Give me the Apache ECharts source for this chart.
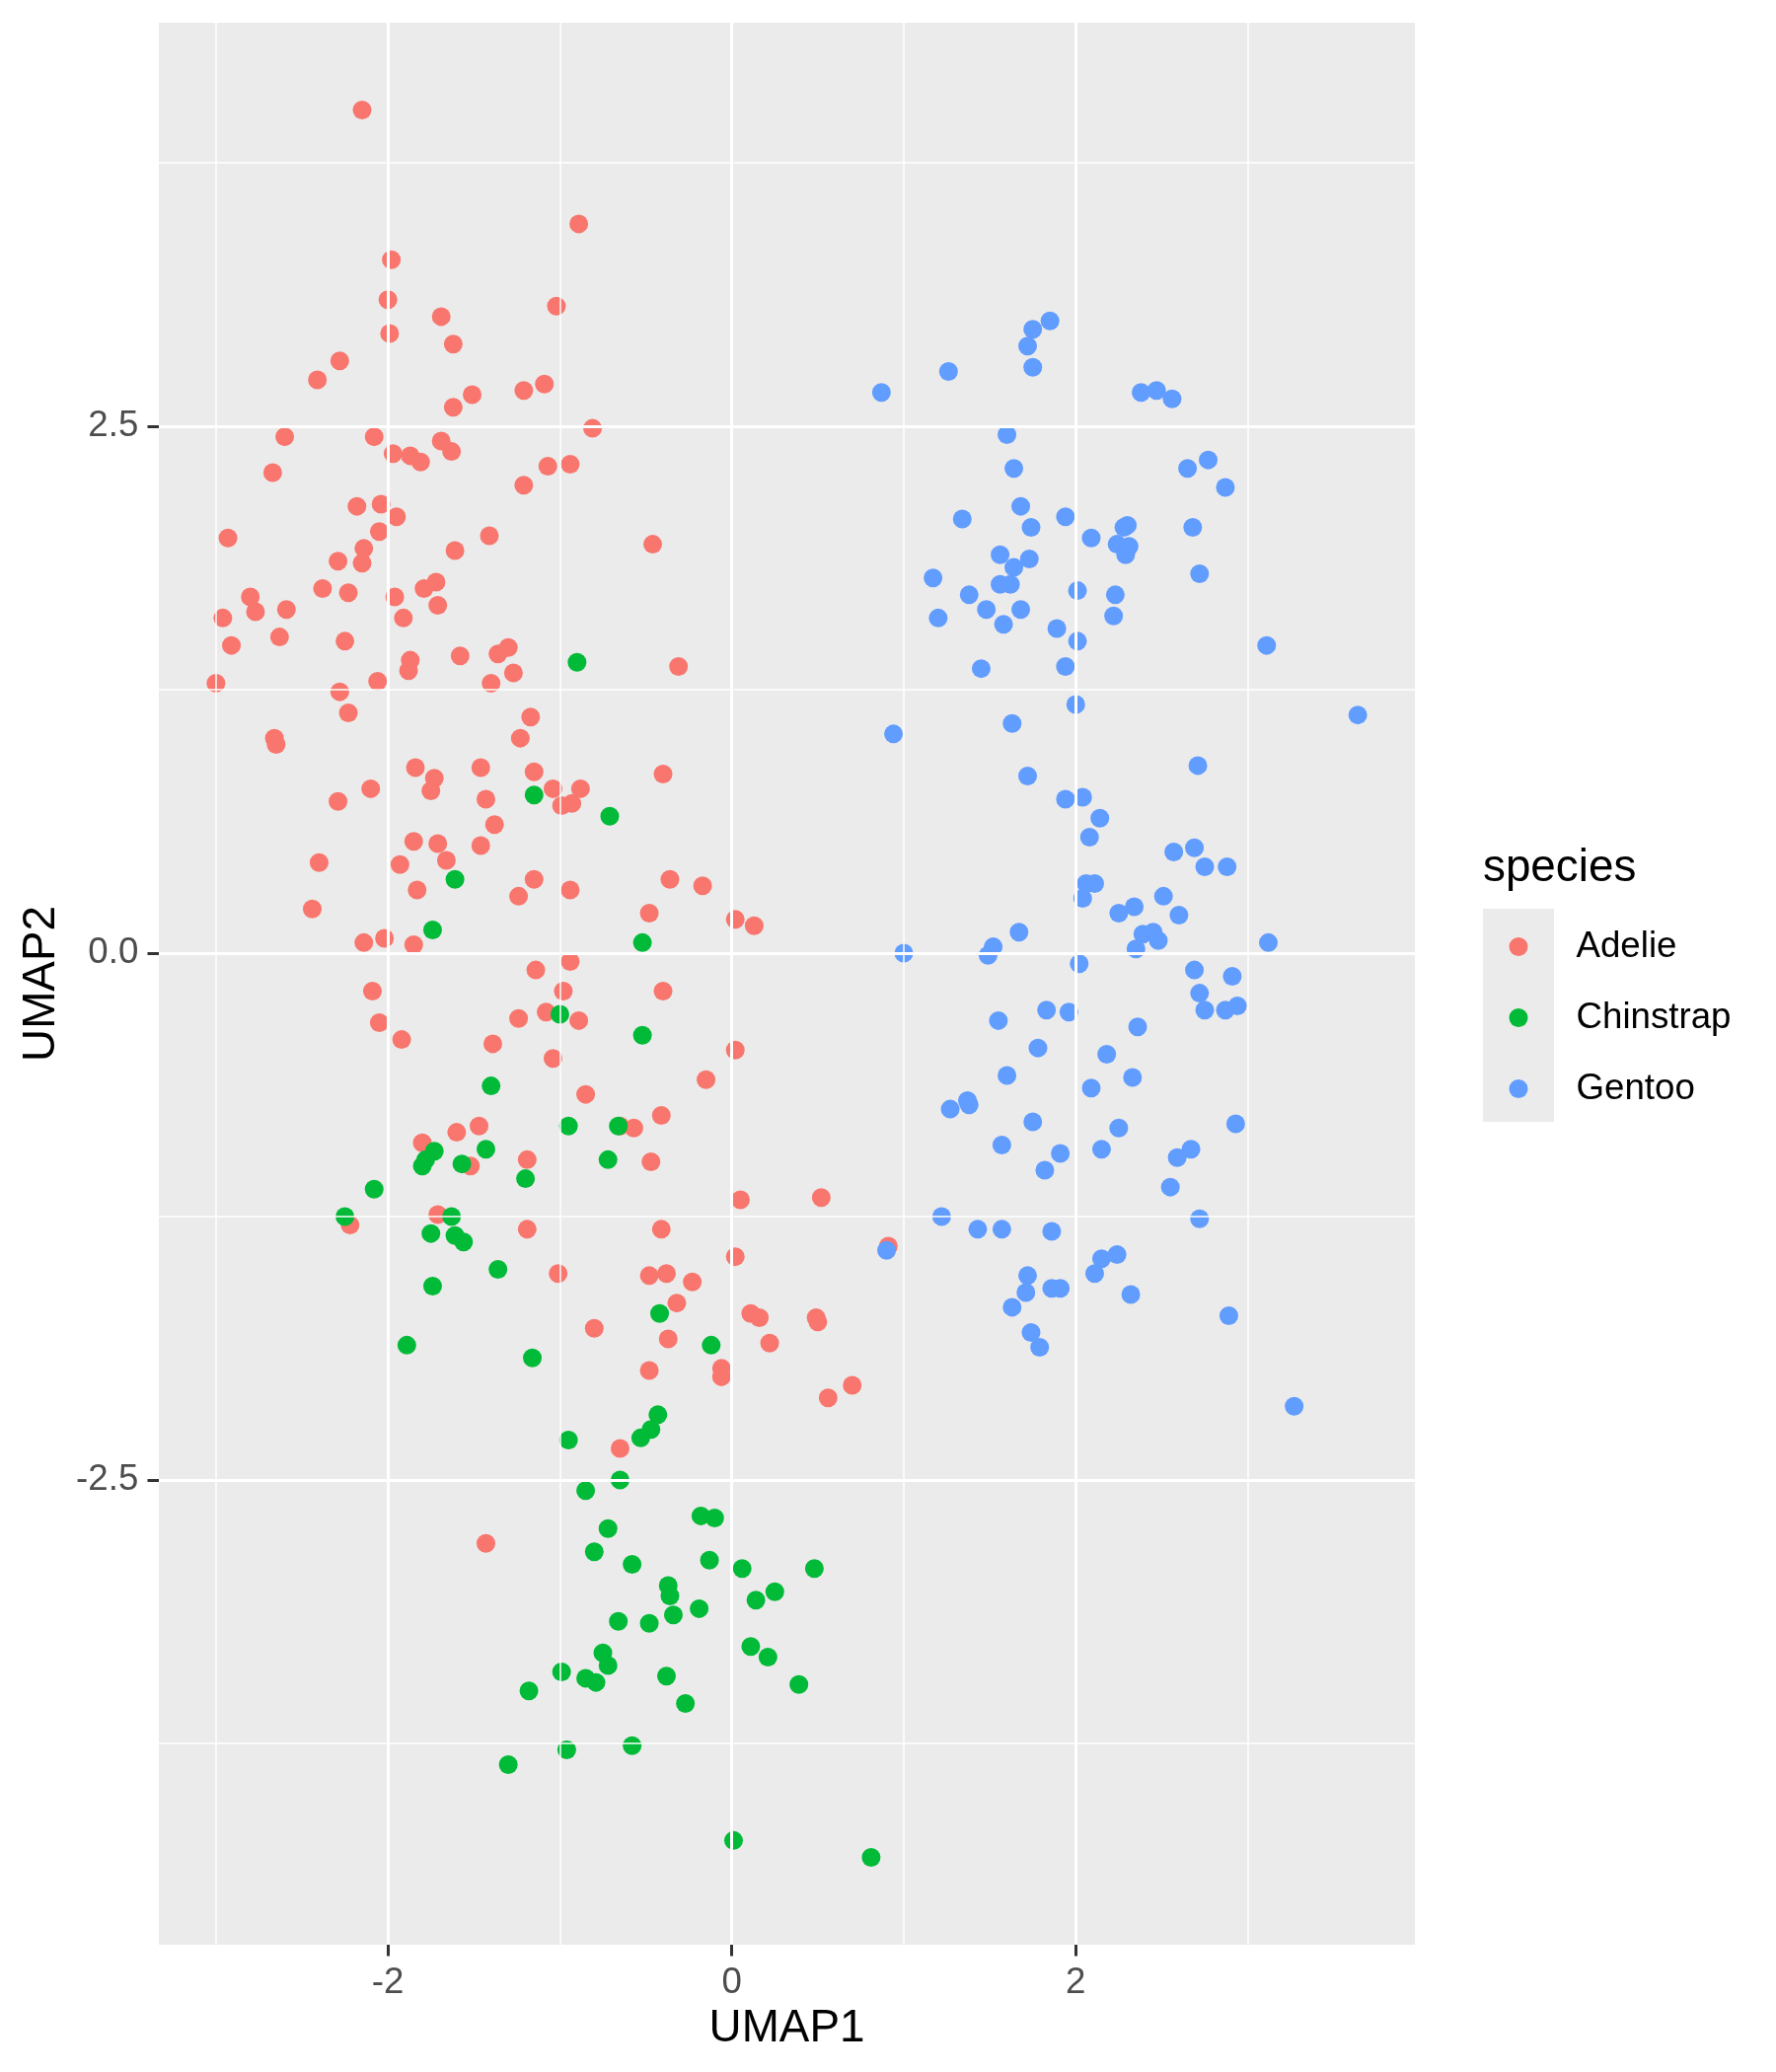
<!DOCTYPE html>
<html>
<head>
<meta charset="utf-8">
<script src="https://cdn.jsdelivr.net/npm/echarts@6/dist/echarts.min.js"></script>
<style>
html, body { margin: 0; background: #fff; }
#chart { width: 1800px; height: 2100px; }
</style>
</head>
<body>
<div id="chart"></div>
<script>
// UMAP embedding of the penguins data
const adelie = [
    [-2.15,4.00],[-0.89,3.46],[-1.98,3.29],[-2.00,3.10],[-1.69,3.02],[-1.02,3.07],[-1.99,2.94],[-1.62,2.89],
    [-2.28,2.81],[-2.41,2.72],[-1.51,2.65],[-1.62,2.59],[-1.21,2.67],[-1.09,2.70],[-0.81,2.49],[-2.60,2.45],
    [-2.08,2.45],[-1.97,2.37],[-1.87,2.36],[-1.81,2.33],[-1.69,2.43],[-1.63,2.38],[-2.67,2.28],[-1.07,2.31],
    [-0.94,2.32],[-1.21,2.22],[-2.18,2.12],[-2.04,2.13],[-1.95,2.07],
    [-2.93,1.97],[-2.05,2.00],[-1.41,1.98],[-0.46,1.94],[-2.14,1.92],[-2.29,1.86],[-2.15,1.85],[-1.61,1.91],
    [-2.80,1.69],[-2.77,1.62],[-2.59,1.63],[-2.38,1.73],[-2.23,1.71],[-1.96,1.69],[-1.79,1.73],[-1.72,1.76],
    [-1.71,1.65],[-1.91,1.59],[-2.96,1.59],[-2.91,1.46],[-2.63,1.50],[-2.25,1.48],[-1.87,1.39],[-1.88,1.34],
    [-1.58,1.41],[-1.36,1.42],[-1.30,1.45],[-1.27,1.33],[-1.40,1.28],[-0.31,1.36],[-3.00,1.28],[-2.28,1.24],
    [-2.06,1.29],[-2.23,1.14],[-1.17,1.12],[-1.23,1.02],[-2.66,1.02],[-2.65,0.99],[-1.84,0.88],[-1.73,0.83],
    [-1.75,0.77],[-1.46,0.88],[-1.15,0.86],[-0.40,0.85],[-2.10,0.78],[-2.29,0.72],[-1.43,0.73],[-1.04,0.78],
    [-0.88,0.78],[-0.99,0.70],[-0.93,0.71],[-1.38,0.61],[-1.85,0.53],[-1.71,0.52],[-1.46,0.51],[-1.66,0.44],
    [-2.40,0.43],[-1.93,0.42],[-1.15,0.35],[-0.36,0.35],[-0.17,0.32],[-1.83,0.30],[-1.24,0.27],[-0.94,0.30],
    [-2.44,0.21],[-0.48,0.19],[0.02,0.16],[0.13,0.13],[-2.14,0.05],[-2.02,0.07],[-1.85,0.04],
    [-1.14,-0.08],[-0.94,-0.04],[-2.09,-0.18],[-0.98,-0.18],[-0.40,-0.18],[-2.05,-0.33],[-1.92,-0.41],[-1.24,-0.31],
    [-1.08,-0.28],[-0.89,-0.32],[-1.39,-0.43],[-1.04,-0.50],[0.02,-0.46],[-0.15,-0.60],[-0.85,-0.67],[-0.41,-0.77],
    [-1.60,-0.85],[-1.47,-0.82],[-0.65,-0.82],[-0.57,-0.83],[-1.80,-0.90],[-1.52,-1.01],[-1.19,-0.98],[-0.47,-0.99],
    [0.05,-1.17],[0.52,-1.16],[-2.22,-1.29],[-1.71,-1.24],[-1.19,-1.31],[-0.41,-1.31],[0.02,-1.44],[-1.01,-1.52],
    [-0.48,-1.53],[-0.38,-1.52],[-0.23,-1.56],[-0.32,-1.66],[0.11,-1.71],[0.16,-1.73],[0.49,-1.73],[0.50,-1.75],
    [-0.80,-1.78],[-0.37,-1.83],[0.22,-1.85],[-0.48,-1.98],[-0.06,-1.97],[0.91,-1.39],
    [-0.06,-2.01],[0.56,-2.11],[0.70,-2.05],[-0.65,-2.35],[-1.43,-2.80]
]

const chinstrap = [
    [-0.90,1.38],[-1.15,0.75],[-0.71,0.65],[-1.61,0.35],[-1.74,0.11],[-0.52,0.05],
    [-1.00,-0.29],[-0.52,-0.39],[-1.40,-0.63],[-0.95,-0.82],[-0.66,-0.82],[-1.73,-0.94],[-1.78,-0.98],[-1.80,-1.01],
    [-1.57,-1.00],[-1.43,-0.93],[-1.20,-1.07],[-0.72,-0.98],[-2.08,-1.12],[-2.25,-1.25],[-1.63,-1.25],[-1.75,-1.33],
    [-1.61,-1.34],[-1.56,-1.37],[-1.36,-1.50],[-1.74,-1.58],[-0.42,-1.71],[-0.12,-1.86],[-1.89,-1.86],[-1.16,-1.92],
    [-0.43,-2.19],[-0.47,-2.26],[-0.53,-2.30],[-0.95,-2.31],[-0.65,-2.50],[-0.85,-2.55],[-0.18,-2.67],[-0.10,-2.68],
    [-0.72,-2.73],[-0.80,-2.84],[-0.58,-2.90],[-0.13,-2.88],[0.06,-2.92],[0.48,-2.92],[-0.37,-3.00],[-0.36,-3.05],
    [0.14,-3.07],[0.25,-3.03],[-0.19,-3.11],[-0.34,-3.14],[-0.66,-3.17],[-0.48,-3.18],[0.11,-3.29],[0.21,-3.34],
    [-0.75,-3.32],[-0.72,-3.38],[-0.99,-3.41],[-0.85,-3.44],[-0.79,-3.46],[-0.38,-3.43],[0.39,-3.47],[-1.18,-3.50],
    [-0.27,-3.56],[-0.96,-3.78],[-0.58,-3.76],[-1.30,-3.85],[0.01,-4.21],[0.81,-4.29]
]

const gentoo = [
    [1.85,3.00],[1.75,2.96],[1.72,2.88],[1.75,2.78],[1.26,2.76],[0.87,2.66],[2.38,2.66],[2.47,2.67],
    [2.56,2.63],[1.60,2.46],[1.64,2.30],[2.65,2.30],[2.77,2.34],[2.87,2.21],[1.68,2.12],[1.34,2.06],
    [1.94,2.07],[1.74,2.02],[2.09,1.97],[2.28,2.02],[2.30,2.03],[2.68,2.02],[2.24,1.94],[2.31,1.93],
    [2.29,1.89],[1.56,1.89],[1.73,1.87],[1.64,1.83],[1.17,1.78],[1.56,1.75],[1.62,1.75],[2.72,1.80],
    [1.38,1.70],[2.01,1.72],[2.23,1.70],[1.48,1.63],[1.68,1.63],[1.20,1.59],[1.58,1.56],[2.22,1.60],
    [1.89,1.54],[2.01,1.48],[3.11,1.46],[1.45,1.35],[1.94,1.36],[2.00,1.18],[3.64,1.13],[0.94,1.04],
    [1.63,1.09],[2.71,0.89],[1.72,0.84],[1.94,0.73],[2.04,0.74],[2.14,0.64],[2.08,0.55],[2.57,0.48],
    [2.69,0.50],
    [2.75,0.41],[2.88,0.41],[2.06,0.33],[2.11,0.33],[2.04,0.26],[2.51,0.27],[2.25,0.19],[2.34,0.22],
    [2.60,0.18],[1.67,0.10],[1.52,0.03],[1.49,-0.01],[1.00,0.00],[2.39,0.09],[2.45,0.10],[2.48,0.06],
    [2.35,0.02],[3.12,0.05],[2.02,-0.05],[2.69,-0.08],[2.91,-0.11],[2.72,-0.19],[2.75,-0.27],[2.87,-0.27],
    [2.94,-0.25],[1.83,-0.27],[1.96,-0.28],[1.55,-0.32],[2.36,-0.35],[1.78,-0.45],[2.18,-0.48],[1.60,-0.58],
    [2.33,-0.59],[2.09,-0.64],[1.27,-0.74],[1.37,-0.70],[1.38,-0.72],[1.75,-0.80],[2.25,-0.83],[2.93,-0.81],
    [1.57,-0.91],[1.91,-0.95],[2.15,-0.93],[1.82,-1.03],[2.59,-0.97],[2.67,-0.93],[2.55,-1.11],[1.22,-1.25],
    [1.43,-1.31],[1.57,-1.31],[1.86,-1.32],[2.72,-1.26],[0.90,-1.41],[2.24,-1.43],[2.15,-1.45],[2.11,-1.52],
    [1.72,-1.53],[1.71,-1.61],[1.86,-1.59],[1.91,-1.59],[2.32,-1.62],[1.63,-1.68],[2.89,-1.72],[1.74,-1.80],
    [1.79,-1.87],[3.27,-2.15]
]

const speciesNames = ['Adelie', 'Chinstrap', 'Gentoo']
const xTicks = [-2, 0, 2]
const xMinor = [-3, -1, 1, 3]
const yTicks = [-2.5, 0, 2.5]
const yMinor = [-3.75, -1.25, 1.25, 3.75]

const colors = { Adelie: '#F8766D', Chinstrap: '#00BA38', Gentoo: '#619CFF' }
const font = 'Liberation Sans'

// ggplot style 5% expansion on each side
function expand(vals) {
    let lo = Math.min(...vals)
    let hi = Math.max(...vals)
    let pad = (hi - lo) * 0.05
    return [lo - pad, hi + pad]
}
let all = adelie.concat(chinstrap, gentoo)
let xRange = expand(all.map(p => p[0]))
let yRange = expand(all.map(p => p[1]))

// white panel grid, drawn as mark lines so it can sit on ggplot's breaks
let gridLines = []
xMinor.forEach(v => gridLines.push({ xAxis: v, lineStyle: { width: 1.5 } }))
yMinor.forEach(v => gridLines.push({ yAxis: v, lineStyle: { width: 1.5 } }))
xTicks.forEach(v => gridLines.push({ xAxis: v, lineStyle: { width: 3 } }))
yTicks.forEach(v => gridLines.push({ yAxis: v, lineStyle: { width: 3 } }))

function pointSeries(name, data) {
    return {
        name: name,
        type: 'scatter',
        data: data,
        symbol: 'circle',
        symbolSize: 19,
        itemStyle: { color: colors[name], opacity: 1 },
        emphasis: { disabled: true },
        z: 2
    }
}

let chart = echarts.init(document.getElementById('chart'), null, { renderer: 'canvas' })

let option = {
    animation: false,
    backgroundColor: '#ffffff',
    grid: {
        left: 161,
        right: 366,
        top: 23,
        bottom: 129,
        show: true,
        backgroundColor: '#EBEBEB',
        borderWidth: 0
    },
    xAxis: {
        type: 'value',
        min: xRange[0],
        max: xRange[1],
        name: 'UMAP1',
        nameLocation: 'middle',
        nameGap: 57,
        nameTextStyle: { fontFamily: font, fontSize: 45.8, color: '#000' },
        axisLine: { show: false, onZero: false },
        axisTick: { show: true, length: 11.5, customValues: xTicks, lineStyle: { color: '#333333', width: 3 } },
        axisLabel: {
            customValues: xTicks,
            margin: 20.7,
            fontFamily: font,
            fontSize: 36.7,
            color: '#4D4D4D',
            formatter: v => String(v)
        },
        splitLine: { show: false }
    },
    yAxis: {
        type: 'value',
        min: yRange[0],
        max: yRange[1],
        name: 'UMAP2',
        nameLocation: 'middle',
        nameGap: 96,
        nameRotate: 90,
        nameTextStyle: { fontFamily: font, fontSize: 45.8, color: '#000' },
        axisLine: { show: false, onZero: false },
        axisTick: { show: true, length: 11.5, customValues: yTicks, lineStyle: { color: '#333333', width: 3 } },
        axisLabel: {
            customValues: yTicks,
            margin: 20.7,
            fontFamily: font,
            fontSize: 36.7,
            color: '#4D4D4D',
            formatter: v => v.toFixed(1)
        },
        splitLine: { show: false }
    },
    legend: {
        data: speciesNames,
        orient: 'vertical',
        left: 1529.5,
        top: 923.5,
        padding: 0,
        itemGap: 0,
        itemWidth: 19,
        itemHeight: 19,
        icon: 'circle',
        selectedMode: false,
        textStyle: {
            fontFamily: font,
            fontSize: 36.7,
            color: '#000',
            lineHeight: 72,
            padding: [0, 0, 0, 44]
        }
    },
    graphic: [
        {
            type: 'rect',
            left: 1503,
            top: 921,
            z: 0,
            shape: { width: 72, height: 216 },
            style: { fill: '#EBEBEB' }
        },
        {
            type: 'text',
            left: 1503,
            top: 857.5,
            style: { text: 'species', font: '45.8px "Liberation Sans"', fill: '#000' }
        }
    ],
    series: [
        {
            name: 'grid',
            type: 'scatter',
            data: [],
            z: 1,
            silent: true,
            markLine: {
                silent: true,
                symbol: ['none', 'none'],
                label: { show: false },
                emphasis: { disabled: true },
                animation: false,
                lineStyle: { color: '#ffffff', type: 'solid', opacity: 1 },
                data: gridLines
            }
        },
        // same drawing order as the data rows: Adelie, Gentoo, Chinstrap
        pointSeries('Adelie', adelie),
        pointSeries('Gentoo', gentoo),
        pointSeries('Chinstrap', chinstrap)
    ]
}

chart.setOption(option)
</script>
</body>
</html>
